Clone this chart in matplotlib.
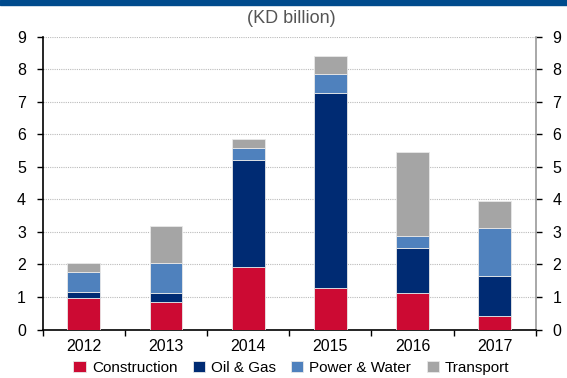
import matplotlib
matplotlib.use("Agg")
import matplotlib.pyplot as plt
import numpy as np
from matplotlib.patches import Rectangle

years = ["2012", "2013", "2014", "2015", "2016", "2017"]
construction = [0.98, 0.83, 1.92, 1.28, 1.12, 0.42]
oil_gas = [0.16, 0.28, 3.29, 5.99, 1.39, 1.23]
power_water = [0.64, 0.94, 0.37, 0.59, 0.36, 1.46]
transport = [0.27, 1.12, 0.26, 0.54, 2.59, 0.83]
series_names = ["Construction", "Oil & Gas", "Power & Water", "Transport"]
colors = ["#CC0A33", "#002B73", "#4F81BD", "#A5A5A5"]
yticks = list(range(0, 10))

plt.rcParams['font.family'] = ['Liberation Sans', 'DejaVu Sans']

fig = plt.figure(figsize=(5.67, 3.78), dpi=100)
ax = fig.add_axes([0.0753, 0.1283, 0.8695, 0.7747])

# top blue band
fig.patches.append(Rectangle((0, 0.987), 1, 0.013, transform=fig.transFigure,
                             color="#004B8D", zorder=10))

x = np.arange(len(years))
bottom = np.zeros(len(years))
data = [construction, oil_gas, power_water, transport]
handles = []
for vals, name, c in zip(data, series_names, colors):
    b = ax.bar(x, vals, width=0.4, bottom=bottom, color=c, edgecolor="#E8E8E8",
               linewidth=0.6, label=name, zorder=3)
    handles.append(b)
    bottom += np.array(vals)

ax.set_xlim(-0.5, len(years) - 0.5)
ax.set_ylim(0, 9)
ax.set_yticks(yticks)
ax.set_yticklabels([str(t) for t in yticks], fontsize=11.5)
ax.yaxis.grid(True, linestyle=(0, (1, 1)), color="#BBBBBB", linewidth=0.8, zorder=0)
ax.set_axisbelow(True)

ax.set_xticks(np.arange(-0.5, len(years), 1.0))
ax.set_xticklabels([])
ax.set_xticks(x, minor=True)
ax.set_xticklabels(years, minor=True, fontsize=11.5)
ax.tick_params(axis="x", which="minor", length=0, pad=7)
ax.tick_params(axis="x", which="major", length=4, width=1, color="black", direction="out")
ax.tick_params(axis="y", which="major", length=4, width=1, direction="out", pad=8,
               left=True, right=True, labelleft=True, labelright=True)
for t in ax.yaxis.get_major_ticks():
    t.tick1line.set_color("black")
    t.tick2line.set_color("#999999")

ax.spines["top"].set_visible(False)
ax.spines["left"].set_color("black")
ax.spines["left"].set_linewidth(1.2)
ax.spines["bottom"].set_color("black")
ax.spines["bottom"].set_linewidth(1.2)
ax.spines["right"].set_color("#999999")
ax.spines["right"].set_linewidth(1.2)

fig.text(0.513, 0.952, "(KD billion)", ha="center", va="center", fontsize=13,
         color="#555555", family=["Liberation Sans Narrow", "Liberation Sans", "DejaVu Sans"])

leg = fig.legend(handles, series_names, loc="center", bbox_to_anchor=(0.514, 0.027),
                 ncol=4, frameon=False, fontsize=11, handlelength=0.8,
                 handleheight=0.8, handletextpad=0.4, columnspacing=1.0,
                 borderpad=0, borderaxespad=0)

fig.savefig("out.png", dpi=100)
